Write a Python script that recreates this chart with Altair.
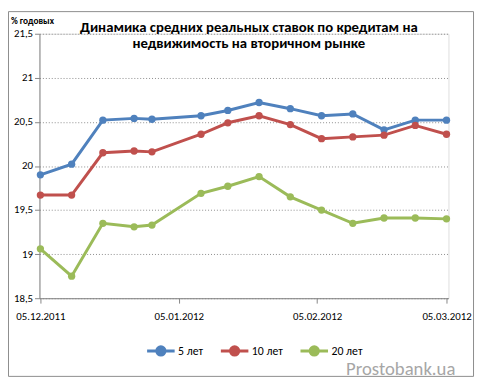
import altair as alt
import pandas as pd

dates = ["2011-12-05", "2011-12-12", "2011-12-19", "2011-12-26", "2011-12-30",
         "2012-01-10", "2012-01-16", "2012-01-23", "2012-01-30", "2012-02-06",
         "2012-02-13", "2012-02-20", "2012-02-27", "2012-03-05"]
series_names = ["5 лет", "10 лет", "20 лет"]
rate_5 = [19.90, 20.02, 20.52, 20.54, 20.53, 20.57, 20.63, 20.72, 20.65, 20.57, 20.59, 20.41, 20.52, 20.52]
rate_10 = [19.67, 19.67, 20.15, 20.17, 20.16, 20.36, 20.49, 20.57, 20.47, 20.31, 20.33, 20.35, 20.46, 20.36]
rate_20 = [19.06, 18.75, 19.35, 19.31, 19.33, 19.69, 19.77, 19.88, 19.65, 19.50, 19.35, 19.41, 19.41, 19.40]
colors = ["#4F81BD", "#C0504D", "#9BBB59"]
y_ticks = [18.5, 19, 19.5, 20, 20.5, 21, 21.5]

title_1 = "Динамика средних реальных ставок по кредитам на"
title_2 = "недвижимость на вторичном рынке"
unit_label = "% годовых"
watermark = "Prostobank.ua"

FONT = "Carlito, Lato, 'Noto Sans', sans-serif"

rows = []
for name, vals in zip(series_names, [rate_5, rate_10, rate_20]):
    for d, v in zip(dates, vals):
        rows.append({"date": d, "series": name, "rate": v})
df = pd.DataFrame(rows)


def dt(y, m, d, h=0, mi=0):
    return alt.DateTime(year=y, month=m, date=d, hours=h, minutes=mi, utc=True)


x_enc = alt.X(
    "date:T",
    scale=alt.Scale(type="utc", domain=[dt(2011, 12, 4, 19), dt(2012, 3, 5, 10, 30)]),
    axis=alt.Axis(
        values=[dt(2011, 12, 5), dt(2012, 1, 5), dt(2012, 2, 5), dt(2012, 3, 5)],
        labelExpr="utcFormat(datum.value, '%d.%m.%Y')",
        title=None, grid=False, labelOverlap=False, labelBound=False, labelFlush=False,
        domainColor="#868686", tickColor="#868686", tickSize=5,
        labelFontSize=11, labelColor="#000000", labelFont=FONT, labelPadding=8,
    ),
)
y_enc = alt.Y(
    "rate:Q",
    scale=alt.Scale(domain=[18.5, 21.5], zero=False, nice=False),
    axis=alt.Axis(
        values=y_ticks,
        labelExpr="replace(format(datum.value, '.1~f'), '.', ',')",
        title=None, grid=True, gridColor="#8c8c8c", gridDash=[1, 2], gridWidth=1,
        domainColor="#868686", tickColor="#868686", tickSize=5,
        labelFontSize=11, labelColor="#000000", labelFont=FONT, labelPadding=2,
    ),
)
color_enc = alt.Color(
    "series:N",
    scale=alt.Scale(domain=series_names, range=colors),
    legend=alt.Legend(
        orient="none", legendX=108, legendY=307, direction="horizontal", title=None,
        symbolType="M-1,0L1,0M-0.3,0A0.3,0.3,0,1,1,0.3,0A0.3,0.3,0,1,1,-0.3,0Z",
        symbolSize=784, symbolStrokeWidth=3,
        labelFontSize=12, labelFont=FONT, labelColor="#000000",
        columnPadding=11, labelOffset=2,
    ),
)

lines = alt.Chart(df).mark_line(
    strokeWidth=3,
    point=alt.OverlayMarkDef(filled=True, size=55, opacity=1),
).encode(x=x_enc, y=y_enc, color=color_enc)

one = alt.Data(values=[{}])

t1 = alt.Chart(one).mark_text(font=FONT, fontSize=15, fontWeight="bold", align="center", color="#000000").encode(
    x=alt.value(213), y=alt.value(-7), text=alt.value(title_1))
t2 = alt.Chart(one).mark_text(font=FONT, fontSize=15, fontWeight="bold", align="center", color="#000000").encode(
    x=alt.value(213), y=alt.value(10), text=alt.value(title_2))
unit = alt.Chart(one).mark_text(font=FONT, fontSize=9.5, fontWeight="bold", align="left", color="#000000").encode(
    x=alt.value(-29), y=alt.value(-13), text=alt.value(unit_label))
wm = alt.Chart(one).mark_text(font=FONT, fontSize=19, align="right", color="#a6a6a6").encode(
    x=alt.value(423), y=alt.value(341), text=alt.value(watermark))
border = alt.Chart(one).mark_rect(fill=None, stroke="#8c8c8c", strokeWidth=1).encode(
    x=alt.value(-31.5), x2=alt.value(441.5), y=alt.value(-22.5), y2=alt.value(348.5))

chart = alt.layer(border, lines, t1, t2, unit, wm).properties(
    width=416, height=269,
    padding={"left": 32, "top": 23, "right": 27, "bottom": 80},
    autosize=alt.AutoSizeParams(type="none"),
).configure_view(stroke=None).configure(font=FONT)

chart.save("out.html", embed_options={"renderer": "svg", "actions": False})
